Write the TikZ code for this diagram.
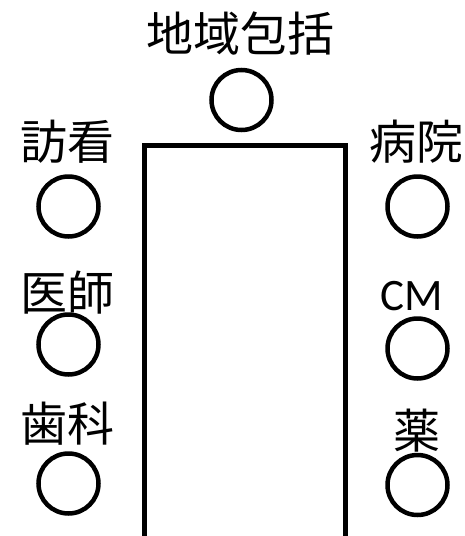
\documentclass[tikz,border=0pt]{standalone}
\usepackage{fontspec}
\newfontfamily\cjk{Noto Sans CJK JP}
\newfontfamily\latinsans{Carlito}
\begin{document}
\begin{tikzpicture}[x=1pt,y=-1pt,
  ring/.style={circle,draw=black,line width=4.5pt,minimum size=60pt,inner sep=0pt},
  lbl/.style={font=\cjk\fontsize{47}{47}\selectfont,inner sep=0pt,anchor=center},
  lbllat/.style={font=\latinsans\fontsize{45}{45}\selectfont,inner sep=0pt,anchor=center}]
\useasboundingbox (0,0) rectangle (464,536);
% top
\node[lbl] (tlbl) at (240,34) {地域包括};
\node[ring] (tc) at (241.5,100) {};
% box
\draw[line width=5pt,line cap=butt,line join=miter] (144.5,536) -- (144.5,145.5) -- (345,145.5) -- (345,536);
% left
\node[lbl] (l1) at (67,142) {訪看};
\node[ring] (lc1) at (68.5,206.5) {};
\node[lbl] (l2) at (67,293) {医師};
\node[ring] (lc2) at (68.5,344.5) {};
\node[lbl] (l3) at (67,424) {歯科};
\node[ring] (lc3) at (68.5,483.5) {};
% right
\node[lbl] (r1) at (416,142) {病院};
\node[ring] (rc1) at (417.5,206.5) {};
\node[lbllat] (r2) at (412,296) {CM};
\node[ring] (rc2) at (417.5,348.5) {};
\node[lbl] (r3) at (417,431) {薬};
\node[ring] (rc3) at (417.5,485) {};
\end{tikzpicture}
\end{document}
